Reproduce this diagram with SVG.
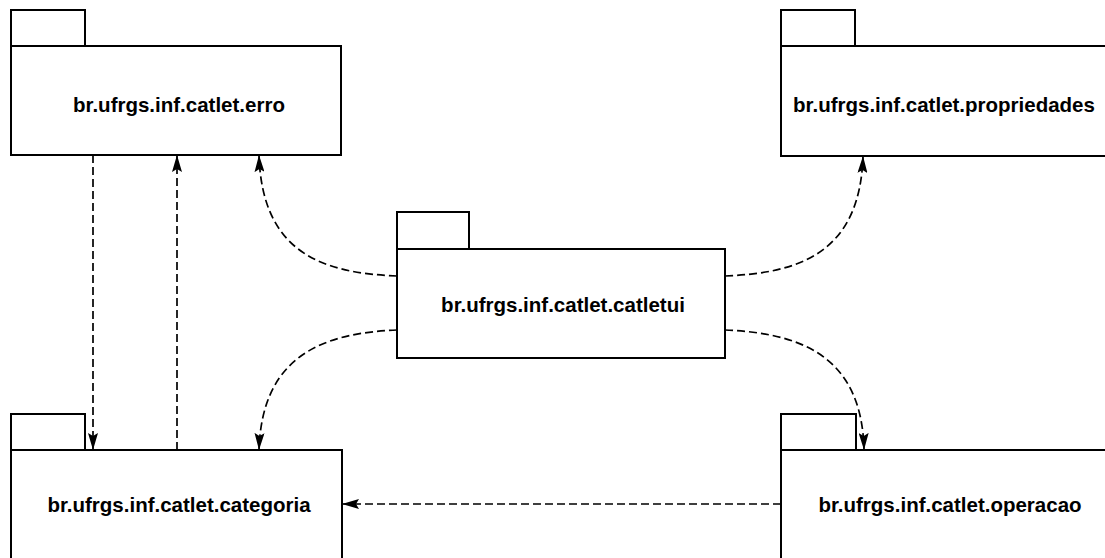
<svg xmlns="http://www.w3.org/2000/svg" width="1105" height="558" viewBox="0 0 1105 558">
  <style>
    .pkg { fill: #ffffff; stroke: #000000; stroke-width: 2; }
    .lbl { font-family: "Liberation Sans", Arial, sans-serif; font-weight: bold; font-size: 20.5px; fill: #000000; text-anchor: middle; }
    .dep { fill: none; stroke: #000000; stroke-width: 1.7; stroke-dasharray: 8 4; marker-end: url(#arrow); }
  </style>
  <defs>
    <marker id="arrow" viewBox="0 0 17 10" refX="17" refY="5" markerWidth="17" markerHeight="10" markerUnits="userSpaceOnUse" orient="auto">
      <path d="M0,0 L17,5 L0,10 L3,5 Z" fill="#000000"/>
    </marker>
  </defs>
  <rect width="1105" height="558" fill="#ffffff"/>

  <g id="pkg-erro">
    <rect class="pkg" x="11" y="10" width="74" height="36"/>
    <rect class="pkg" x="11" y="46" width="330" height="109"/>
    <text class="lbl" x="179" y="112">br.ufrgs.inf.catlet.erro</text>
  </g>

  <g id="pkg-propriedades">
    <rect class="pkg" x="781" y="10" width="74" height="36"/>
    <rect class="pkg" x="781" y="46" width="330" height="110"/>
    <text class="lbl" x="944" y="112">br.ufrgs.inf.catlet.propriedades</text>
  </g>

  <g id="pkg-catletui">
    <rect class="pkg" x="397" y="212" width="72" height="37"/>
    <rect class="pkg" x="397" y="249" width="328" height="109"/>
    <text class="lbl" x="563" y="312">br.ufrgs.inf.catlet.catletui</text>
  </g>

  <g id="pkg-categoria">
    <rect class="pkg" x="11" y="414" width="74" height="36"/>
    <rect class="pkg" x="11" y="450" width="331" height="120"/>
    <text class="lbl" x="179" y="512">br.ufrgs.inf.catlet.categoria</text>
  </g>

  <g id="pkg-operacao">
    <rect class="pkg" x="781" y="414" width="75" height="36"/>
    <rect class="pkg" x="781" y="450" width="340" height="120"/>
    <text class="lbl" x="950" y="512">br.ufrgs.inf.catlet.operacao</text>
  </g>

  <g id="connectors">
    <path class="dep" d="M93,155 L93,450"/>
    <path class="dep" d="M177,450 L177,155"/>
    <path class="dep" d="M397,276 C325,273 262,255 259,155"/>
    <path class="dep" d="M725,276 C797,273 860,255 863,156"/>
    <path class="dep" d="M397,330 C328,333 262,352 259,450"/>
    <path class="dep" d="M725,330 C795,333 862,352 864,450"/>
    <path class="dep" d="M781,504 L342,504"/>
  </g>
</svg>
